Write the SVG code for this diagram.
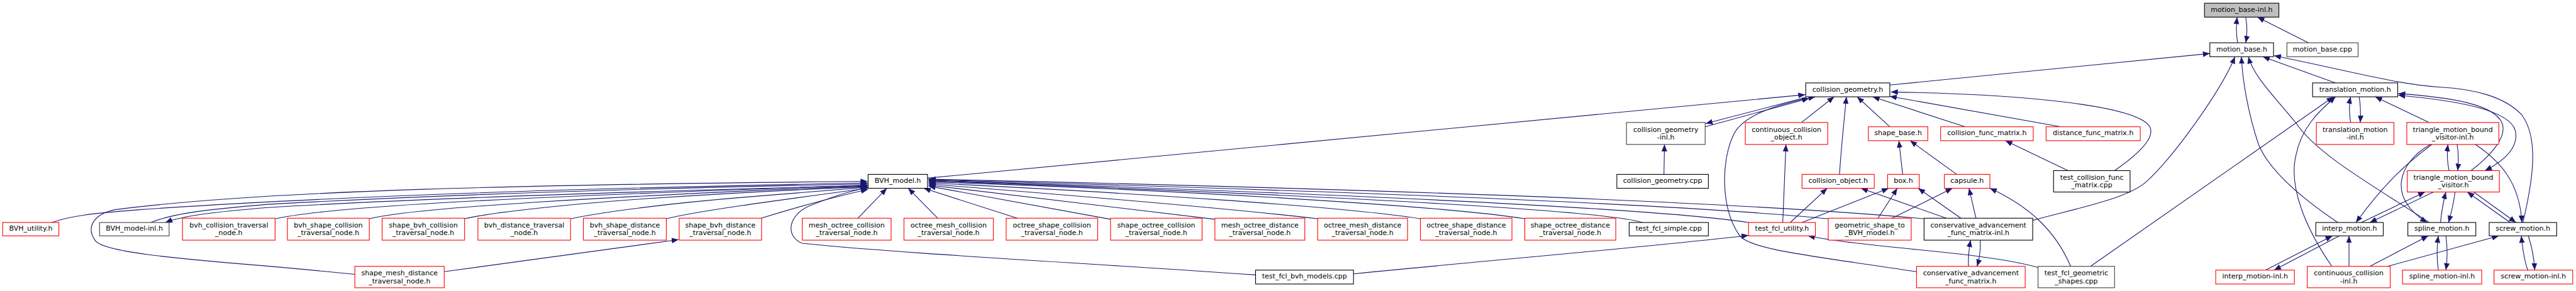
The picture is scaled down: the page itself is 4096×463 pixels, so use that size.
<svg xmlns="http://www.w3.org/2000/svg" width="4096" height="463" viewBox="0 0 4096 463">
<style>
.e{fill:none;stroke:#191970;stroke-width:1.3;marker-end:url(#a)}
.e2{marker-start:url(#s)}
.b{fill:#fff;stroke:#000;stroke-width:1.3}
.d{fill:#fff;stroke:#404040;stroke-width:1.3}
.r{fill:#fff;stroke:#ff0000;stroke-width:1.3}
.g{fill:#bfbfbf;stroke:#000;stroke-width:1.3}
text{font-family:"DejaVu Sans","Liberation Sans",sans-serif;font-size:13px;text-anchor:middle;fill:#000}
</style>
<defs>
<marker id="a" markerUnits="userSpaceOnUse" markerWidth="14" markerHeight="11" refX="13" refY="5.25" orient="auto">
<path d="M0,0 L13,5.25 L0,10.5 Z" fill="#191970"/>
</marker>
<marker id="s" markerUnits="userSpaceOnUse" markerWidth="14" markerHeight="11" refX="13" refY="5.25" orient="auto-start-reverse">
<path d="M0,0 L13,5.25 L0,10.5 Z" fill="#191970"/>
</marker>
</defs>
<rect width="4096" height="463" fill="#fff"/>
<g transform="scale(0.851)">
<g id="edges">
<path class="e" d="M4181,80 C4178,65 4178,50 4180,32"/>
<path class="e" d="M4196,32 C4199,48 4199,64 4196,80"/>
<path class="e" d="M4313,80 L4218,32"/>
<path class="e" d="M3531,159 L4129,100"/>
<path class="e" d="M4364,155 L4228,106"/>
<path class="e" d="M4714,416 C4732,340 4745,260 4712,215 C4680,180 4620,166 4560,163 C4480,158 4400,135 4249,104"/>
<path class="e" d="M3798,412 C3900,385 3975,370 4010,340 C4060,295 4150,170 4176,106"/>
<path class="e" d="M4368,416 C4300,370 4240,320 4220,270 C4200,210 4190,150 4188,106"/>
<path class="e" d="M4539,416 C4440,350 4330,290 4290,230 C4240,170 4210,140 4201,106"/>
<path class="e" d="M4357,498 C4310,430 4275,350 4290,290 C4300,240 4330,210 4364,181"/>
<path class="e" d="M3906,498 L4360,181"/>
<path class="e" d="M4539,229 L4438,181"/>
<path class="e" d="M4392,229 C4389,210 4389,195 4392,181"/>
<path class="e" d="M4408,181 C4411,198 4411,212 4410,229"/>
<path class="e" d="M4617,319 C4655,290 4685,255 4675,230 C4660,195 4580,182 4481,175"/>
<path class="e e2" d="M4481,178 C4590,188 4690,205 4700,245 C4706,275 4680,300 4643,319"/>
<path class="e" d="M4576,319 C4572,300 4572,285 4574,270"/>
<path class="e" d="M4591,270 C4594,288 4594,302 4592,319"/>
<path class="e" d="M4544,270 C4490,310 4450,350 4402,416"/>
<path class="e" d="M4541,270 C4480,305 4460,370 4535,416"/>
<path class="e" d="M4625,270 C4670,300 4708,340 4712,416"/>
<path class="e" d="M4412,416 L4531,359"/>
<path class="e" d="M4547,359 L4428,416"/>
<path class="e" d="M4560,416 C4562,395 4565,378 4570,359"/>
<path class="e" d="M4587,359 C4585,380 4580,398 4575,416"/>
<path class="e" d="M4690,416 L4610,359"/>
<path class="e" d="M4622,359 L4701,416"/>
<path class="e" d="M4233,505 L4358,441"/>
<path class="e" d="M4371,441 L4249,505"/>
<path class="e" d="M4389,498 L4389,441"/>
<path class="e" d="M4428,498 L4537,441"/>
<path class="e" d="M4461,498 L4669,441"/>
<path class="e" d="M4556,505 C4553,485 4553,462 4556,441"/>
<path class="e" d="M4570,441 C4573,462 4573,485 4570,505"/>
<path class="e" d="M4723,505 C4716,485 4713,462 4711,441"/>
<path class="e" d="M4724,441 C4731,462 4735,485 4736,505"/>
<path class="e" d="M1733,333 L3373,177"/>
<path class="e" d="M3375,182 L3187,231"/>
<path class="e" d="M3186,237 L3380,184"/>
<path class="e" d="M3109,326 L3110,270"/>
<path class="e" d="M3366,229 L3427,181"/>
<path class="e" d="M3437,326 C3440,280 3445,230 3450,181"/>
<path class="e" d="M3531,237 L3470,181"/>
<path class="e" d="M3672,237 L3499,181"/>
<path class="e" d="M3851,237 L3531,180"/>
<path class="e" d="M3951,319 C3990,292 4025,262 4018,240 C4005,200 3800,176 3533,172"/>
<path class="e" d="M3864,319 L3747,263"/>
<path class="e" d="M3581,508 C3400,480 3270,468 3250,440 C3215,390 3215,300 3240,250 C3258,215 3320,195 3392,181"/>
<path class="e" d="M3331,416 L3337,270"/>
<path class="e" d="M3345,416 L3414,352"/>
<path class="e" d="M3367,416 L3529,352"/>
<path class="e" d="M3637,408 L3477,352"/>
<path class="e" d="M3509,408 L3545,352"/>
<path class="e" d="M3664,408 L3584,352"/>
<path class="e" d="M3535,408 L3648,352"/>
<path class="e" d="M3692,408 L3679,352"/>
<path class="e" d="M3869,498 C3840,430 3790,385 3718,352"/>
<path class="e" d="M3555,326 L3548,263"/>
<path class="e" d="M3656,326 L3569,263"/>
<path class="e" d="M3678,498 C3677,480 3679,465 3682,449"/>
<path class="e" d="M3700,449 C3701,466 3699,482 3694,498"/>
<path class="e" d="M3808,500 C3700,470 3500,465 3378,441"/>
<path class="e" d="M2529,512 C2800,485 3100,460 3267,440"/>
<path class="e" d="M2346,514 C2000,490 1700,475 1500,455 C1468,445 1468,400 1520,382 C1560,366 1590,356 1622,351"/>
<path class="e" d="M663,513 C450,490 200,480 178,450 C160,425 175,400 215,392 C500,355 1000,345 1621,339"/>
<path class="e" d="M97,416 C130,404 170,399 260,392 C700,362 1200,350 1621,342"/>
<path class="e" d="M282,416 C320,400 380,392 500,382 C900,360 1300,350 1621,344"/>
<path class="e" d="M1621,347 C1300,355 800,370 500,388 C400,396 340,404 309,416"/>
<path class="e" d="M515,409 C560,398 700,385 900,375 C1200,360 1450,352 1621,346"/>
<path class="e" d="M690,409 C740,397 850,388 1000,378 C1300,360 1500,352 1621,348"/>
<path class="e" d="M868,409 C920,397 1050,383 1200,372 C1400,358 1550,352 1621,349"/>
<path class="e" d="M1067,409 C1120,397 1250,380 1400,368 C1500,360 1580,354 1621,350"/>
<path class="e" d="M1245,409 C1300,395 1450,375 1621,352"/>
<path class="e" d="M1422,408 C1480,390 1560,368 1622,354"/>
<path class="e" d="M830,508 L1268,448"/>
<path class="e" d="M1603,408 L1657,352"/>
<path class="e" d="M1752,408 L1697,352"/>
<path class="e" d="M1901,408 L1726,352"/>
<path class="e" d="M2075,410 L1735,348"/>
<path class="e" d="M2270,410 L1735,346"/>
<path class="e" d="M2462,409 C2300,390 2000,365 1735,344"/>
<path class="e" d="M2654,409 C2500,385 2100,360 1735,342"/>
<path class="e" d="M2849,409 C2700,385 2200,355 1735,340"/>
<path class="e" d="M3069,416 C3000,395 2600,370 1735,338"/>
<path class="e" d="M3267,416 C3150,398 2800,372 1735,337"/>
<path class="e" d="M3416,409 C3200,388 2700,362 1735,336"/>
<path class="e" d="M3595,409 C3300,382 2700,356 1735,335"/>
</g>
<g id="n_motion_base_inl"><rect class="g" x="4119" y="6" width="139" height="26"/><text x="4188.5" y="22">motion_base-inl.h</text></g>
<g id="n_motion_base_h"><rect class="b" x="4129" y="80" width="119" height="26"/><text x="4188.5" y="96">motion_base.h</text></g>
<g id="n_motion_base_cpp"><rect class="d" x="4273" y="80" width="133" height="26"/><text x="4339.5" y="96">motion_base.cpp</text></g>
<g id="n_collision_geometry_h"><rect class="b" x="3374" y="155" width="157" height="26"/><text x="3452.5" y="171">collision_geometry.h</text></g>
<g id="n_translation_motion_h"><rect class="b" x="4321" y="155" width="159" height="26"/><text x="4400.5" y="171">translation_motion.h</text></g>
<g id="n_collision_geometry_inl"><rect class="d" x="3039" y="229" width="147" height="41"/><text x="3112.5" y="246.5">collision_geometry</text><text x="3112.5" y="261">-inl.h</text></g>
<g id="n_continuous_collision_object"><rect class="r" x="3261" y="229" width="154" height="41"/><text x="3338" y="246.5">continuous_collision</text><text x="3338" y="261">_object.h</text></g>
<g id="n_shape_base"><rect class="r" x="3491" y="237" width="111" height="26"/><text x="3546.5" y="253">shape_base.h</text></g>
<g id="n_collision_func_matrix"><rect class="r" x="3626" y="237" width="173" height="26"/><text x="3712.5" y="253">collision_func_matrix.h</text></g>
<g id="n_distance_func_matrix"><rect class="r" x="3823" y="237" width="176" height="26"/><text x="3911" y="253">distance_func_matrix.h</text></g>
<g id="n_translation_motion_inl"><rect class="r" x="4328" y="229" width="145" height="41"/><text x="4400.5" y="246.5">translation_motion</text><text x="4400.5" y="261">-inl.h</text></g>
<g id="n_tmbv_inl"><rect class="r" x="4497" y="229" width="172" height="41"/><text x="4583" y="246.5">triangle_motion_bound</text><text x="4583" y="261">_visitor-inl.h</text></g>
<g id="n_collision_geometry_cpp"><rect class="b" x="3021" y="326" width="171" height="26"/><text x="3106.5" y="342">collision_geometry.cpp</text></g>
<g id="n_bvh_model"><rect class="b" x="1622" y="326" width="111" height="26"/><text x="1677.5" y="342">BVH_model.h</text></g>
<g id="n_collision_object"><rect class="r" x="3367" y="326" width="135" height="26"/><text x="3434.5" y="342">collision_object.h</text></g>
<g id="n_box"><rect class="r" x="3527" y="326" width="59" height="26"/><text x="3556.5" y="342">box.h</text></g>
<g id="n_capsule"><rect class="r" x="3633" y="326" width="85" height="26"/><text x="3675.5" y="342">capsule.h</text></g>
<g id="n_test_collision_func_matrix"><rect class="b" x="3837" y="319" width="143" height="40"/><text x="3908.5" y="336">test_collision_func</text><text x="3908.5" y="350.5">_matrix.cpp</text></g>
<g id="n_tmbv_h"><rect class="r" x="4498" y="319" width="172" height="40"/><text x="4584" y="336">triangle_motion_bound</text><text x="4584" y="350.5">_visitor.h</text></g>
<g id="n_bvh_utility"><rect class="r" x="5" y="416" width="105" height="25"/><text x="57.5" y="431.5">BVH_utility.h</text></g>
<g id="n_bvh_model_inl"><rect class="d" x="186" y="416" width="130" height="25"/><text x="251" y="431.5">BVH_model-inl.h</text></g>
<g id="n_bvh_collision_tn"><rect class="r" x="341" y="408" width="173" height="41"/><text x="427.5" y="425.5">bvh_collision_traversal</text><text x="427.5" y="440">_node.h</text></g>
<g id="n_bvh_shape_collision_tn"><rect class="r" x="537" y="408" width="153" height="41"/><text x="613.5" y="425.5">bvh_shape_collision</text><text x="613.5" y="440">_traversal_node.h</text></g>
<g id="n_shape_bvh_collision_tn"><rect class="r" x="714" y="408" width="154" height="41"/><text x="791" y="425.5">shape_bvh_collision</text><text x="791" y="440">_traversal_node.h</text></g>
<g id="n_bvh_distance_tn"><rect class="r" x="893" y="408" width="173" height="41"/><text x="979.5" y="425.5">bvh_distance_traversal</text><text x="979.5" y="440">_node.h</text></g>
<g id="n_bvh_shape_distance_tn"><rect class="r" x="1090" y="408" width="155" height="41"/><text x="1167.5" y="425.5">bvh_shape_distance</text><text x="1167.5" y="440">_traversal_node.h</text></g>
<g id="n_shape_bvh_distance_tn"><rect class="r" x="1269" y="408" width="154" height="41"/><text x="1346" y="425.5">shape_bvh_distance</text><text x="1346" y="440">_traversal_node.h</text></g>
<g id="n_mesh_octree_collision_tn"><rect class="r" x="1499" y="408" width="166" height="41"/><text x="1582" y="425.5">mesh_octree_collision</text><text x="1582" y="440">_traversal_node.h</text></g>
<g id="n_octree_mesh_collision_tn"><rect class="r" x="1689" y="408" width="167" height="41"/><text x="1772.5" y="425.5">octree_mesh_collision</text><text x="1772.5" y="440">_traversal_node.h</text></g>
<g id="n_octree_shape_collision_tn"><rect class="r" x="1880" y="408" width="171" height="41"/><text x="1965.5" y="425.5">octree_shape_collision</text><text x="1965.5" y="440">_traversal_node.h</text></g>
<g id="n_shape_octree_collision_tn"><rect class="r" x="2075" y="408" width="171" height="41"/><text x="2160.5" y="425.5">shape_octree_collision</text><text x="2160.5" y="440">_traversal_node.h</text></g>
<g id="n_mesh_octree_distance_tn"><rect class="r" x="2270" y="408" width="168" height="41"/><text x="2354" y="425.5">mesh_octree_distance</text><text x="2354" y="440">_traversal_node.h</text></g>
<g id="n_octree_mesh_distance_tn"><rect class="r" x="2462" y="408" width="168" height="41"/><text x="2546" y="425.5">octree_mesh_distance</text><text x="2546" y="440">_traversal_node.h</text></g>
<g id="n_octree_shape_distance_tn"><rect class="r" x="2654" y="408" width="171" height="41"/><text x="2739.5" y="425.5">octree_shape_distance</text><text x="2739.5" y="440">_traversal_node.h</text></g>
<g id="n_shape_octree_distance_tn"><rect class="r" x="2849" y="408" width="170" height="41"/><text x="2934" y="425.5">shape_octree_distance</text><text x="2934" y="440">_traversal_node.h</text></g>
<g id="n_test_fcl_simple"><rect class="b" x="3044" y="416" width="148" height="25"/><text x="3118" y="431.5">test_fcl_simple.cpp</text></g>
<g id="n_test_fcl_utility"><rect class="r" x="3267" y="416" width="125" height="25"/><text x="3329.5" y="431.5">test_fcl_utility.h</text></g>
<g id="n_geometric_shape_to_bvh"><rect class="r" x="3416" y="408" width="155" height="41"/><text x="3493.5" y="425.5">geometric_shape_to</text><text x="3493.5" y="440">_BVH_model.h</text></g>
<g id="n_cafm_inl"><rect class="b" x="3595" y="408" width="203" height="41"/><text x="3696.5" y="425.5">conservative_advancement</text><text x="3696.5" y="440">_func_matrix-inl.h</text></g>
<g id="n_interp_motion"><rect class="b" x="4327" y="416" width="126" height="25"/><text x="4390" y="431.5">interp_motion.h</text></g>
<g id="n_spline_motion"><rect class="b" x="4499" y="416" width="127" height="25"/><text x="4562.5" y="431.5">spline_motion.h</text></g>
<g id="n_screw_motion"><rect class="b" x="4651" y="416" width="126" height="25"/><text x="4714" y="431.5">screw_motion.h</text></g>
<g id="n_shape_mesh_distance_tn"><rect class="r" x="663" y="498" width="167" height="40"/><text x="746.5" y="515">shape_mesh_distance</text><text x="746.5" y="529.5">_traversal_node.h</text></g>
<g id="n_test_fcl_bvh_models"><rect class="b" x="2346" y="505" width="183" height="26"/><text x="2437.5" y="521">test_fcl_bvh_models.cpp</text></g>
<g id="n_cafm"><rect class="r" x="3581" y="498" width="203" height="40"/><text x="3682.5" y="515">conservative_advancement</text><text x="3682.5" y="529.5">_func_matrix.h</text></g>
<g id="n_test_fcl_geometric_shapes"><rect class="d" x="3808" y="498" width="143" height="40"/><text x="3879.5" y="515">test_fcl_geometric</text><text x="3879.5" y="529.5">_shapes.cpp</text></g>
<g id="n_interp_motion_inl"><rect class="r" x="4140" y="505" width="147" height="26"/><text x="4213.5" y="521">interp_motion-inl.h</text></g>
<g id="n_continuous_collision_inl"><rect class="r" x="4311" y="498" width="155" height="40"/><text x="4388.5" y="515">continuous_collision</text><text x="4388.5" y="529.5">-inl.h</text></g>
<g id="n_spline_motion_inl"><rect class="r" x="4489" y="505" width="148" height="26"/><text x="4563" y="521">spline_motion-inl.h</text></g>
<g id="n_screw_motion_inl"><rect class="r" x="4660" y="505" width="147" height="26"/><text x="4733.5" y="521">screw_motion-inl.h</text></g>
</g>
</svg>
